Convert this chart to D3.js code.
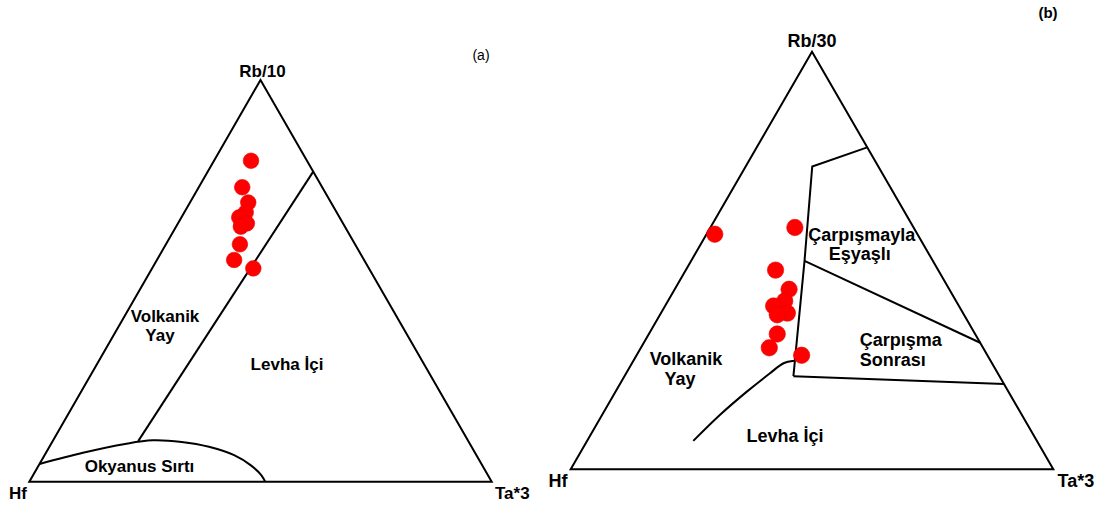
<!DOCTYPE html>
<html>
<head>
<meta charset="utf-8">
<script src="https://cdn.jsdelivr.net/npm/d3@7"></script>
<style>
  html, body { margin: 0; padding: 0; background: #fff; }
  svg { display: block; }
  text { font-family: "Liberation Sans", Arial, sans-serif; }
</style>
</head>
<body>
<svg id="chart" width="1101" height="506"></svg>
<script>
// ---------- DATA (ternary fractions: Rb, Ta, Hf) ----------
// Diagram (a): Hf - Rb/10 - Ta*3
const samplesA_Rb = [0.799, 0.733, 0.695, 0.670, 0.658, 0.643, 0.635, 0.591, 0.552, 0.531];
const samplesA_Ta = [0.080, 0.094, 0.126, 0.133, 0.125, 0.149, 0.140, 0.160, 0.167, 0.219];
const samplesA_Hf = samplesA_Rb.map((r, i) => +(1 - r - samplesA_Ta[i]).toFixed(3));

// Diagram (b): Hf - Rb/30 - Ta*3
const samplesB_Rb = [0.563, 0.579, 0.477, 0.431, 0.403, 0.391, 0.374, 0.370, 0.324, 0.291, 0.273];
const samplesB_Ta = [0.017, 0.175, 0.186, 0.237, 0.242, 0.225, 0.262, 0.243, 0.266, 0.266, 0.342];
const samplesB_Hf = samplesB_Rb.map((r, i) => +(1 - r - samplesB_Ta[i]).toFixed(3));

// Field boundaries, as [Rb, Ta] pairs
const boundaryA_line  = [[0.772, 0.228], [0.101, 0.185]];
const boundaryA_ridge = [[0.044, 0.000], [0.072, 0.080], [0.094, 0.160], [0.103, 0.215],
                         [0.099, 0.280], [0.087, 0.345], [0.066, 0.410], [0.040, 0.460],
                         [0.016, 0.494], [0.000, 0.510]];

const boundaryB_main  = [[0.771, 0.229], [0.725, 0.138], [0.499, 0.235], [0.223, 0.350]];
const boundaryB_mid   = [[0.499, 0.235], [0.303, 0.697]];
const boundaryB_low   = [[0.223, 0.350], [0.204, 0.796]];
const boundaryB_curve = [[0.068, 0.220], [0.130, 0.244], [0.186, 0.272], [0.230, 0.298],
                         [0.254, 0.314], [0.260, 0.333]];

// Labels
const apexLabelsA = ["Rb/10", "Hf", "Ta*3"];
const apexLabelsB = ["Rb/30", "Hf", "Ta*3"];
const fieldLabelsA = [["Volkanik", "Yay"], ["Levha İçi"], ["Okyanus Sırtı"]];
const fieldLabelsB = [["Volkanik", "Yay"], ["Levha İçi"], ["Çarpışmayla", "Eşyaşlı"], ["Çarpışma", "Sonrası"]];

// ---------- DRAW ----------
const svg = d3.select("#chart");

function makeTernary(x0, x1, yBase, yTop) {
  const xs = d3.scaleLinear().domain([0, 1]).range([x0, x1]);
  const ys = d3.scaleLinear().domain([0, 1]).range([yBase, yTop]);
  const proj = (rb, ta) => [xs(ta + rb / 2), ys(rb)];
  return { xs, ys, proj };
}

const TA = makeTernary(29.3, 491.7, 481.7, 80);
const TB = makeTernary(570.7, 1053.3, 469.3, 51.7);

function drawFrame(T) {
  const pts = [T.proj(0, 0), T.proj(1, 0), T.proj(0, 1)];
  svg.append("path")
    .attr("d", d3.line()(pts) + "Z")
    .attr("fill", "none").attr("stroke", "#000").attr("stroke-width", 2)
    .attr("stroke-linejoin", "miter");
}

function drawBoundary(T, arr, curve) {
  const line = d3.line().x(d => T.proj(d[0], d[1])[0]).y(d => T.proj(d[0], d[1])[1]);
  if (curve) line.curve(curve);
  svg.append("path").attr("d", line(arr))
    .attr("fill", "none").attr("stroke", "#000").attr("stroke-width", 2)
    .attr("stroke-linejoin", "miter");
}

function drawPoints(T, rb, ta, r) {
  svg.append("g").selectAll("circle").data(rb).join("circle")
    .attr("cx", (d, i) => T.proj(d, ta[i])[0])
    .attr("cy", (d, i) => T.proj(d, ta[i])[1])
    .attr("r", r)
    .attr("fill", "#ff0000")
    .attr("stroke", "#e80000").attr("stroke-width", 0.6);
}

function label(txt, x, y, size, anchor, weight) {
  svg.append("text").text(txt)
    .attr("x", x).attr("y", y)
    .attr("font-size", size)
    .attr("font-weight", weight || "bold")
    .attr("text-anchor", anchor || "middle")
    .attr("fill", "#000");
}

// ----- Diagram (a) -----
drawFrame(TA);
drawBoundary(TA, boundaryA_line);
drawBoundary(TA, boundaryA_ridge, d3.curveCatmullRom);
drawPoints(TA, samplesA_Rb, samplesA_Ta, 7.8);

label(apexLabelsA[0], TA.proj(1, 0)[0] + 2, 76.5, 17);
label(apexLabelsA[1], 9, 499, 17, "start");
label(apexLabelsA[2], 495, 499, 17, "start");
label(fieldLabelsA[0][0], 165, 322, 17);
label(fieldLabelsA[0][1], 160, 341, 17);
label(fieldLabelsA[1][0], 287, 370, 17);
label(fieldLabelsA[2][0], 139.5, 472, 17);
label("(a)", 481, 60, 14, "middle", "normal");

// ----- Diagram (b) -----
drawFrame(TB);
drawBoundary(TB, boundaryB_main);
drawBoundary(TB, boundaryB_mid);
drawBoundary(TB, boundaryB_low);
drawBoundary(TB, boundaryB_curve, d3.curveCatmullRom);
drawPoints(TB, samplesB_Rb, samplesB_Ta, 8.2);

label(apexLabelsB[0], TB.proj(1, 0)[0], 47, 18);
label(apexLabelsB[1], 548.5, 487, 18, "start");
label(apexLabelsB[2], 1057.5, 487, 18, "start");
label(fieldLabelsB[0][0], 686, 364.5, 18);
label(fieldLabelsB[0][1], 680, 384.5, 18);
label(fieldLabelsB[1][0], 785, 442, 18);
label(fieldLabelsB[2][0], 861.7, 241, 18);
label(fieldLabelsB[2][1], 859.7, 259.5, 18);
label(fieldLabelsB[3][0], 859.7, 345.5, 18, "start");
label(fieldLabelsB[3][1], 859.7, 365.5, 18, "start");
label("(b)", 1048, 18, 15, "middle", "bold");
</script>
</body>
</html>
